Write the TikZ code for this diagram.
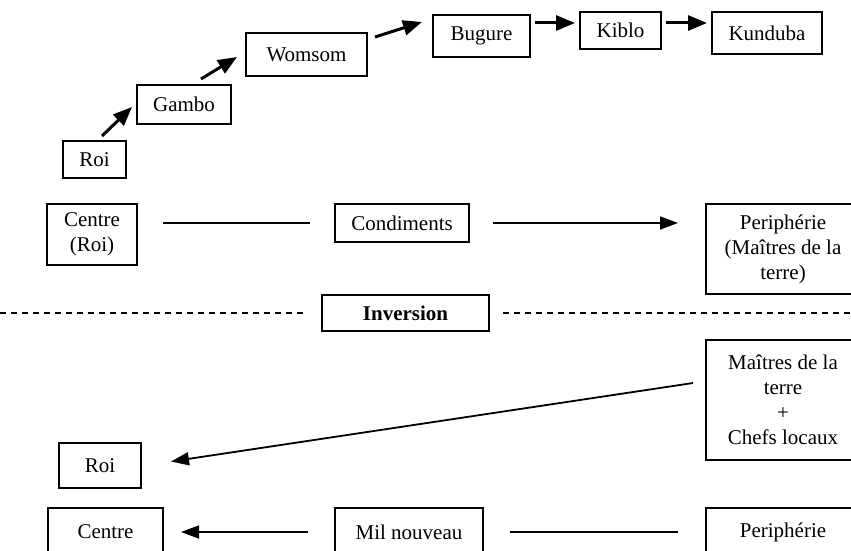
\documentclass[tikz,border=0pt]{standalone}
\usepackage{fontspec}
\setmainfont{Liberation Serif}
\usetikzlibrary{arrows.meta,calc}
\begin{document}
\begin{tikzpicture}[x=1pt,y=-1pt,
  box/.style={draw,line width=1.2pt,inner sep=0pt,outer sep=0pt,align=center,
    font=\fontsize{21}{25}\selectfont},
  thickarr/.style={line width=3pt,-{Triangle[length=19pt,width=15pt]}},
  arr/.style={line width=1.8pt,-{Triangle[length=18pt,width=13pt]}},
  plain/.style={line width=1.8pt},
  dashline/.style={line width=1.4pt,dash pattern=on 6pt off 5pt}]
\useasboundingbox (0,0) rectangle (851,551);
\clip (0,0) rectangle (851,551);
\coordinate (L) at (0,0);
\coordinate (R) at (851,0);
% top chain
\node[box,minimum width=63pt,minimum height=37pt] (roi) at (94.5,159.5) {Roi};
\node[box,minimum width=94pt,minimum height=39pt] (gambo) at (184,104.5) {Gambo};
\node[box,minimum width=121pt,minimum height=43pt] (womsom) at (306.5,54.5) {Womsom};
\node[box,minimum width=97pt,minimum height=42pt] (bugure) at (481.5,36) {Bugure};
\node[box,minimum width=81pt,minimum height=37pt] (kiblo) at (620.5,30.5) {Kiblo};
\node[box,minimum width=110pt,minimum height=42pt] (kunduba) at (767,33) {Kunduba};
\draw[thickarr] ($(roi.north west)+(39,-5)$) -- ($(gambo.south west)+(-5,-17)$);
\draw[thickarr] ($(gambo.north west)+(64,-6)$) -- ($(womsom.west)+(-9,2.5)$);
\draw[thickarr] ($(womsom.north east)+(8,4)$) -- ($(bugure.north west)+(-11,7)$);
\draw[thickarr] ($(bugure.east)+(5,-13)$) -- ($(kiblo.west)+(-5,-7.5)$);
\draw[thickarr] ($(kiblo.east)+(5,-7.5)$) -- ($(kunduba.west)+(-5,-10)$);
% middle row
\node[box,minimum width=90pt,minimum height=61pt] (cr) at (92,234.5) {Centre\\(Roi)};
\node[box,minimum width=134pt,minimum height=38pt] (cond) at (402,223) {Condiments};
\node[box,minimum width=154pt,minimum height=90pt] (per) at (783,249) {Periphérie\\(Maîtres de la\\terre)};
\draw[plain,shorten <=26pt,shorten >=25pt] (cond.west -| cr.east) -- (cond.west);
\draw[arr,shorten <=24pt,shorten >=28pt] (cond.east) -- (cond.east -| per.west);
% inversion
\node[box,minimum width=167pt,minimum height=36pt,font=\fontsize{21}{25}\selectfont\bfseries] (inv) at (405.5,313) {Inversion};
\draw[dashline,shorten >=15pt] (inv.west -| L) -- (inv.west);
\draw[dashline,shorten <=14pt] (inv.east) -- (inv.east -| R);
% lower part
\node[box,minimum width=154pt,minimum height=120pt] (mait) at (783,400) {Maîtres de la\\terre\\+\\Chefs locaux};
\node[box,minimum width=82pt,minimum height=45pt] (roi2) at (100,465.5) {Roi};
\draw[arr] ($(mait.west)+(-13,-17)$) -- ($(roi2.east)+(30,-4)$);
\node[box,minimum width=115pt,minimum height=48pt] (centre) at (105.5,532) {Centre};
\node[box,minimum width=148pt,minimum height=48pt] (mil) at (409,532) {Mil nouveau};
\node[box,minimum width=154pt,minimum height=48pt] (per2) at (783,532) {Periphérie};
\draw[arr,shorten <=27pt,shorten >=18pt] (mil.west) -- (centre.east);
\draw[plain,shorten <=27pt,shorten >=28pt] (mil.east) -- (per2.west);
\end{tikzpicture}
\end{document}
